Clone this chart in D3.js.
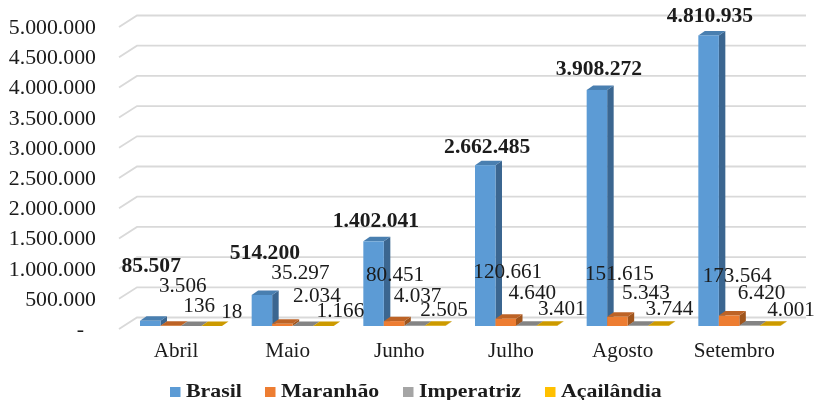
<!DOCTYPE html>
<html><head><meta charset="utf-8">
<script src="https://cdnjs.cloudflare.com/ajax/libs/d3/7.8.5/d3.min.js"></script>
<style>html,body{margin:0;background:#fff}svg{display:block}text{font-family:"Liberation Serif",serif;fill:#1a1a1a}</style>
</head><body><svg id="c" width="817" height="400"></svg>
<script>
const categories=["Abril","Maio","Junho","Julho","Agosto","Setembro"];
const seriesNames=["Brasil","Maranhão","Imperatriz","Açailândia"];
const brasil=[85507,514200,1402041,2662485,3908272,4810935];
const maranhao=[3506,35297,80451,120661,151615,173564];
const imperatriz=[136,2034,4037,4640,5343,6420];
const acailandia=[18,1166,2505,3401,3744,4001];
const yTicks=[0,500000,1000000,1500000,2000000,2500000,3000000,3500000,4000000,4500000,5000000];
const faceColors=["#5b9bd5","#ed7d31","#a5a5a5","#ffc000"];
const topColors=["#4a7fb0","#bd6427","#848484","#cc9a00"];
const sideColors=["#3b6690","#a0541f","#6e6e6e","#a88000"];
// label nudges relative to default placement (manually placed in the original)
const labelDX=[[1,3,2.4,2,2,1.4],[12,18,1,2,2,8],[8,14,3,6,8,12],[20,17,9,15,11,21]];
const labelBase=[[272,259,227,153,75,22],[292,279,281,278,280,282],[312,302,302,299,299,299],[318,317,316,315,315,316]];

const svg=d3.select("#c");
svg.append("defs").append("filter").attr("id","soft").append("feGaussianBlur").attr("stdDeviation",0.45);
const root=svg.append("g").attr("filter","url(#soft)");
const data=[brasil,maranhao,imperatriz,acailandia];
const fmt=v=>v===0?"-":d3.format(",")(v).replace(/,/g,".");

const depth={wx:18,wy:-11.5,bx:6.5,by:-4.5};
const yFront=d3.scaleLinear().domain([0,5000000]).range([329,27]);   // front plane
const yBar=d3.scaleLinear().domain([0,5000000]).range([326,24]);
const xCat=d3.scaleBand().domain(categories).range([140,810]).paddingInner(0).paddingOuter(0);
const xSer=d3.scaleBand().domain(seriesNames).range([0,82]);
const wallLeft=119, wallRight=806;

// grid
const grid=root.append("g");
yTicks.forEach(t=>{
  const y=yFront(t);
  grid.append("path").attr("fill","none").attr("stroke","#d9d9d9").attr("stroke-width",1.8)
   .attr("d",`M${wallLeft},${y}L${wallLeft+depth.wx},${y+depth.wy}L${wallRight},${y+depth.wy}`);
});

// y axis
const axis=root.append("g").attr("transform","translate(96,0)")
  .call(d3.axisLeft(yFront).tickValues(yTicks).tickFormat(fmt).tickSize(0).tickPadding(0));
axis.select(".domain").remove();
axis.selectAll(".tick text").attr("font-size",20).attr("text-anchor","end").attr("dy","0.32em").attr("x",0)
  .attr("transform",d=>`translate(${d===0?-12:0},0) scale(1.09,1)`);

// bars
categories.forEach((c,i)=>{
  seriesNames.forEach((s,j)=>{
    const x0=xCat(c)+xSer(s), w=xSer.bandwidth(), b=yBar(0), t=yBar(data[j][i]);
    const g=root.append("g");
    g.append("path").attr("fill",sideColors[j]).attr("d",`M${x0+w},${b}L${x0+w+depth.bx},${b+depth.by}L${x0+w+depth.bx},${t+depth.by}L${x0+w},${t}Z`);
    g.append("path").attr("fill",topColors[j]).attr("d",`M${x0},${t}L${x0+depth.bx},${t+depth.by}L${x0+w+depth.bx},${t+depth.by}L${x0+w},${t}Z`);
    g.append("rect").attr("x",x0).attr("y",t).attr("width",w).attr("height",b-t).attr("fill",faceColors[j]);
  });
});

// value labels
function sText(x,y,str,size,sx,anchor,bold){
  return root.append("text").attr("transform",`translate(${x},${y}) scale(${sx},1)`)
   .attr("text-anchor",anchor).attr("font-size",size).attr("font-weight",bold?"bold":"normal").text(str);
}
categories.forEach((c,i)=>{
  seriesNames.forEach((s,j)=>{
    const cx=xCat(c)+xSer(s)+xSer.bandwidth()/2;
    sText(cx+labelDX[j][i],labelBase[j][i],fmt(data[j][i]),20,j===0?1.08:1.06,"middle",j===0);
  });
  sText(xCat(c)+36,357,c,20,1.06,"middle",false);
});

// legend
const legendX=[170,265,403,545];
seriesNames.forEach((s,j)=>{
  root.append("rect").attr("x",legendX[j]).attr("y",387).attr("width",10.5).attr("height",10).attr("fill",faceColors[j]);
  sText(legendX[j]+16,397,s,19,1.15,"start",true);
});
</script></body></html>
